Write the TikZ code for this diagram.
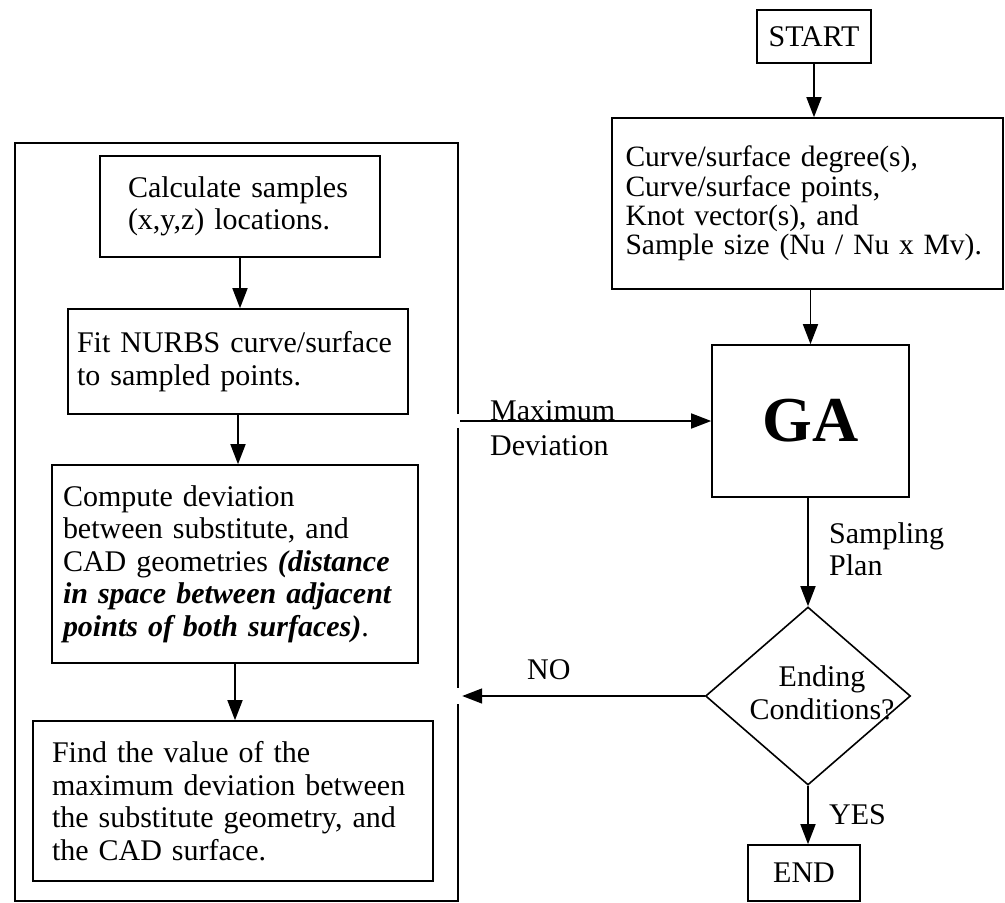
\documentclass[tikz,border=0pt]{standalone}
\usepackage{fontspec}
\setmainfont{Liberation Serif}
\usetikzlibrary{arrows.meta,shapes.geometric}
\begin{document}
\begin{tikzpicture}[x=1pt,y=-1pt,
  lw/.style={line width=1.6pt},
  stepbox/.style={draw,lw,rectangle,align=left,inner xsep=0pt,inner ysep=0pt,
     font=\fontsize{30}{32.5}\selectfont},
  arr/.style={lw,-{Triangle[length=20pt,width=15pt]}},
  lbl/.style={font=\fontsize{30}{32}\selectfont,align=left,inner sep=0pt,anchor=west}]
\useasboundingbox (0,0) rectangle (1005,903);
% left column
\node[draw=none,minimum width=443pt,minimum height=758pt,inner sep=0pt] (outer) at (236.5,522) {};
\node[stepbox,minimum width=280pt,minimum height=101pt,text width=224pt] (b1) at (240,206.5)
  {Calculate samples\\(x,y,z) locations.};
\node[stepbox,minimum width=340pt,minimum height=105pt,text width=322pt] (b2) at (238,361.5)
  {Fit NURBS curve/surface\\to sampled points.};
\node[stepbox,minimum width=366pt,minimum height=198pt,text width=344pt] (b3) at (235,564)
  {Compute deviation\\between substitute, and\\CAD geometries \textbf{\textit{(distance\\in space between adjacent\\points of both surfaces)}}.};
\node[stepbox,minimum width=400pt,minimum height=160pt,text width=362pt] (b4) at (233,801)
  {Find the value of the\\maximum deviation between\\the substitute geometry, and\\the CAD surface.};
% outer frame with gaps where the connectors meet it
\draw[lw] (outer.east |- 0,414) -- (outer.north east) -- (outer.north west)
  -- (outer.south west) -- (outer.south east) -- (outer.east |- 0,704);
\draw[lw] (outer.east |- 0,428) -- (outer.east |- 0,688);
% right column
\node[stepbox,minimum width=114pt,minimum height=53pt,align=center] (start) at (814,36.5) {START};
\node[stepbox,minimum width=391pt,minimum height=171pt,text width=364pt,
  font=\fontsize{29.5}{29.5}\selectfont] (par) at (807.5,203.5)
  {Curve/surface degree(s),\\Curve/surface points,\\Knot vector(s), and\\Sample size (Nu / Nu x Mv).};
\node[stepbox,minimum width=197pt,minimum height=152pt,align=center,
  font=\fontsize{64}{64}\selectfont\bfseries] (ga) at (810.5,421) {GA};
\node[draw,lw,diamond,minimum width=205pt,minimum height=178pt,inner sep=0pt] (dec) at (808,696) {};
\node[font=\fontsize{30}{33}\selectfont,align=center,inner sep=0pt] (dect) at ([xshift=14pt,yshift=3pt]dec.center) {Ending\\Conditions?};
\node[stepbox,minimum width=112pt,minimum height=56pt,align=center] (end) at (804,873) {END};
% connectors
\draw[arr] (b1.south) -- (b1.south |- b2.north);
\draw[arr] (b2.south) -- (b2.south |- b3.north);
\draw[arr] (b3.south) -- (b3.south |- b4.north);
\draw[arr] (start.south) -- (start.south |- par.north);
\draw[arr] (par.south -| ga.north) -- (ga.north);
\draw[arr] (ga.south -| dec.north) -- (dec.north);
\draw[arr] (dec.south) -- (dec.south |- end.north);
\coordinate (mdstart) at (outer.east |- ga.west);
\draw[arr] ([xshift=2pt]mdstart) -- (ga.west);
\coordinate (noend) at (outer.east |- dec.west);
\draw[arr] (dec.west) -- ([xshift=4pt]noend);
% labels
\node[lbl] (lmax) at (490,411) {Maximum};
\node[lbl] (ldev) at (490,446) {Deviation};
\node[lbl] (lsp) at (829,549) {Sampling\\Plan};
\node[lbl] (lno) at (527,670) {NO};
\node[lbl] (lyes) at (829,815) {YES};
\end{tikzpicture}
\end{document}
